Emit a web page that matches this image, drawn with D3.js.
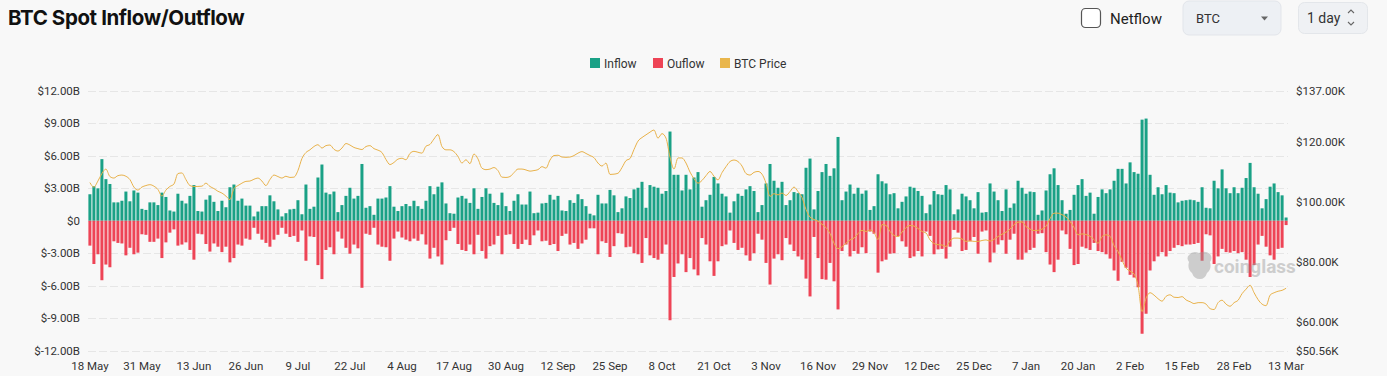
<!DOCTYPE html>
<html>
<head>
<meta charset="utf-8">
<script src="https://cdn.jsdelivr.net/npm/d3@7"></script>
<style>
  html, body { margin: 0; padding: 0; background: #f8f8f8; }
  svg { display: block; font-family: Roboto, "Noto Sans", sans-serif; }
</style>
</head>
<body>
<div id="canvas"></div>
<script>
"use strict"

/* canvas */
let svgWidth = 1387;
let svgHeight = 376;

/* plot area */
let plotLeft = 88
let plotRight = 1288
let plotTop = 91
let plotBottom = 350.5

/* daily spot inflow, $B (one bar per day from 18 May) */
let inflow = [
    2.45,3.2,3.0,5.7,3.85,3.4,1.7,1.7,1.85,2.7,
    1.8,2.8,2.6,1.1,1.0,1.7,1.7,1.45,2.6,2.2,
    0.95,0.85,2.5,1.85,1.6,2.3,3.3,0.9,0.85,1.95,
    2.35,1.75,0.9,1.85,1.25,3.1,3.35,1.85,2.05,1.4,
    1.4,0.4,0.85,1.35,1.35,2.35,1.8,1.05,0.4,0.7,
    1.05,1.1,1.9,0.6,3.35,1.1,1.3,4.0,5.2,2.6,
    2.45,2.7,0.8,1.45,2.3,3.05,2.05,2.3,5.25,1.2,
    1.35,0.55,2.05,2.05,2.15,3.2,1.3,0.9,1.35,1.55,
    1.35,1.85,1.35,1.1,1.85,3.2,2.45,3.15,3.55,1.6,
    0.7,0.65,2.15,2.3,2.05,1.65,3.0,1.1,2.2,3.0,
    2.5,1.65,1.45,2.6,1.35,0.9,1.85,2.45,1.5,1.5,
    2.7,0.7,0.75,1.6,1.65,2.4,1.95,2.3,0.95,0.9,
    1.9,1.65,2.45,2.0,1.35,0.65,0.5,2.4,1.6,1.6,
    2.85,2.35,0.8,1.15,2.25,2.1,2.9,3.05,3.6,1.2,
    3.3,3.15,3.05,2.5,2.75,8.25,4.25,4.25,2.8,4.25,
    2.9,4.0,4.5,1.3,1.9,2.4,4.05,3.45,2.5,2.25,
    0.75,1.8,2.5,2.3,2.9,3.2,2.75,0.8,1.45,3.45,
    5.25,3.7,3.05,3.6,1.45,1.9,2.65,2.55,2.45,4.9,
    5.75,1.05,2.75,4.5,5.25,4.15,4.85,7.75,1.9,2.7,
    3.35,2.5,3.05,2.5,2.8,1.0,1.35,4.3,3.65,3.45,
    2.45,2.55,1.15,1.75,2.25,3.15,3.05,2.75,2.3,0.7,
    1.5,2.75,2.45,2.4,3.3,2.9,0.6,1.05,2.5,2.25,
    1.9,1.15,2.65,0.75,0.8,3.45,2.7,1.9,0.9,2.9,
    1.2,1.6,3.7,3.05,2.5,2.7,2.65,0.55,0.95,2.8,
    4.3,4.85,3.3,1.9,0.65,1.0,2.4,3.3,3.85,2.3,
    2.6,0.65,2.2,2.9,2.55,2.9,3.7,4.8,4.8,3.45,
    5.4,4.5,4.35,9.35,9.45,4.25,2.4,3.1,2.45,3.3,
    2.6,2.55,1.7,1.85,1.9,1.95,1.9,1.75,3.1,1.2,
    1.15,3.7,3.0,4.75,3.0,2.55,3.1,2.55,3.05,3.95,
    5.35,3.1,2.5,1.15,2.0,3.15,3.45,2.65,2.35,0.3
];

/* daily spot outflow, $B (drawn below zero) */
let outflow = [
    2.3,4.0,3.1,5.5,4.05,4.3,1.9,2.05,2.1,3.2,
    2.5,3.1,2.95,1.25,1.3,1.95,1.95,1.65,3.45,2.0,
    1.1,0.8,2.3,2.2,2.0,2.7,3.6,1.2,1.25,2.15,
    2.85,2.1,2.4,2.9,2.4,3.85,3.45,2.2,2.3,1.65,
    1.75,0.65,1.2,1.75,2.05,2.4,1.75,1.3,0.65,1.2,
    1.5,1.4,1.95,0.9,3.7,1.45,1.5,4.1,5.4,2.7,
    2.45,3.1,1.0,1.65,2.5,3.05,2.2,2.55,6.2,1.2,
    1.3,0.65,2.2,2.4,2.45,3.7,1.65,1.0,1.55,1.75,
    1.9,1.65,1.85,1.25,2.2,3.5,2.5,3.3,4.05,1.8,
    0.95,0.65,2.15,2.7,2.8,2.2,3.1,1.3,2.8,3.5,
    2.35,2.2,1.4,3.1,1.3,1.25,2.15,2.6,2.15,1.75,
    2.25,1.35,0.9,1.9,1.85,2.25,2.15,2.8,1.4,1.2,
    2.2,2.05,2.6,2.1,1.75,0.7,0.7,3.1,1.9,2.05,
    3.35,2.35,1.15,1.2,2.45,2.4,3.0,3.1,3.9,1.6,
    3.2,3.45,3.6,3.05,2.2,9.2,5.2,3.95,3.1,4.75,
    3.45,4.5,5.05,1.6,2.2,3.75,5.1,3.75,2.35,2.2,
    0.9,2.05,2.7,2.5,3.2,3.7,3.0,1.2,1.75,3.9,
    5.9,3.5,3.1,3.65,1.6,2.2,2.8,3.3,3.6,5.35,
    7.0,1.5,3.45,5.4,5.45,3.9,5.6,8.2,2.8,2.2,
    3.3,2.8,3.05,2.45,3.0,1.0,1.2,4.8,3.75,3.6,
    3.05,3.0,1.45,1.9,2.4,3.45,3.3,2.8,3.3,1.0,
    1.4,3.1,2.65,2.6,3.5,2.4,0.85,1.1,2.8,2.7,
    1.9,1.5,3.05,1.0,0.9,3.85,2.95,2.2,1.8,3.05,
    1.75,1.2,3.6,3.6,2.95,2.7,2.5,1.2,1.15,2.9,
    4.05,4.75,3.6,0.9,1.25,2.6,4.1,4.0,2.4,2.55,
    2.7,2.05,2.8,2.9,3.1,3.5,4.6,5.55,3.8,4.35,
    5.0,5.25,6.15,10.45,8.6,4.6,3.75,3.3,2.9,3.3,
    2.8,2.5,2.25,2.35,2.2,2.2,2.15,2.05,3.7,1.25,
    1.35,4.0,3.3,2.6,2.9,2.95,2.8,3.0,2.9,3.6,
    5.2,4.1,2.2,1.4,2.4,3.2,3.6,2.6,2.5,0.4
];

/* BTC price, $K */
let btcPrice = [
    106.5,105,107,109.5,111,108.5,108,108.8,109,108.6,
    107.5,105,104,105,105.5,105.8,105.3,104.2,102,104,
    105.2,106,109.5,109.7,107.5,105.5,105.2,105.2,105.3,106.3,
    105.2,104.5,103.6,103,102,100.8,104.5,105.5,106.3,106.9,
    107,107.6,108,107,105.5,107.5,109,108.5,108,108.6,
    108.2,108.3,110.5,114.5,116.5,117.4,118.5,119.1,118,118.8,
    119,117.6,117,118,119.5,119,118.2,117.8,117.5,118.5,
    118.8,117.8,117.3,116.5,114.2,112.5,113.2,114.3,114.6,114.1,
    116.2,116.9,116.6,116.3,118.6,119.2,121,122.5,118.5,117.4,
    117.4,116.8,115.2,113,114.1,112.8,116,114.4,111.3,110.8,
    111,111.5,110.5,108.3,108.2,108.5,109.8,111,111,110.7,
    110.3,110.5,110.8,111.8,111.3,114,115.5,115.6,115,114.9,
    115,115.5,116.3,116.8,116.2,115.5,114.8,113,112,113,
    109.2,109.3,109.6,111.5,113.8,114.5,117.5,120.3,121.5,122.4,
    123.3,124,121.3,122.8,121.3,115,111,114.7,114.7,113,
    110,107.8,106.3,107.2,108.8,110.2,108.6,107.4,109.8,111.8,
    113.5,114,113.5,112,109.5,109,109.9,110.2,109.3,106.3,
    101.9,102.8,102.4,103,102.2,103.5,105,103.5,101.5,97.5,
    95,94.2,93.6,92.6,91.5,89.5,86.3,84.5,85.1,86.3,
    87.4,88,89.5,90.6,90.2,90.7,89.8,87.5,92.5,92.2,
    90.2,88.9,88.5,90,91.5,92.2,92,91.2,90.2,89.7,
    87.4,86.2,85.8,85.7,85.2,87,88,88,87.7,86.9,
    87.1,86.9,86.9,87.2,87.4,87,87.6,88.5,89.3,90,
    91,92.5,93.3,93.4,91.8,91,90.5,90.6,91,92,
    94.5,96.3,96.3,95.8,95,93.5,91.5,89.1,89.4,89.2,
    88.6,87.5,86.3,88.5,89.1,88.6,85.5,83.5,80.6,78,
    77,76,72.2,63.5,68,69.8,69,67.8,67,68.6,
    69.1,68.3,68.2,68.5,67.4,66.8,66.2,66.5,66.5,66,
    64.5,64.2,66.5,67.3,66,65.3,66.5,67.3,69.5,71,
    72.3,69.8,67.5,66,65.5,69,69.8,70.3,70.6,71.3
];

/* axis ticks */
let leftTicks = [12, 9, 6, 3, 0, -3, -6, -9, -12];
let rightTicks = [137, 120, 100, 80, 60, 50.56];
let xTickLabels = ["18 May", "31 May", "13 Jun", "26 Jun", "9 Jul", "22 Jul", "4 Aug",
    "17 Aug", "30 Aug", "12 Sep", "25 Sep", "8 Oct", "21 Oct", "3 Nov", "16 Nov",
    "29 Nov", "12 Dec", "25 Dec", "7 Jan", "20 Jan", "2 Feb", "15 Feb", "28 Feb", "13 Mar"];
let xTickEvery = 13;

/* legend */
let legendItems = [
    {label: "Inflow", color: "#1aa186"},
    {label: "Ouflow", color: "#ee4456"},
    {label: "BTC Price", color: "#e9b64c"}
];

let inColor = "#1aa186";
let outColor = "#ee4456";
let priceColor = "#e9b24a";

let svg = d3.select("#canvas")
    .append("svg")
    .attr("width", svgWidth)
    .attr("height", svgHeight);

svg.append("rect")
    .attr("width", svgWidth)
    .attr("height", svgHeight)
    .attr("fill", "#f8f8f8");

/* scales */
let days = d3.range(inflow.length);

let xScale = d3.scaleBand()
    .domain(days)
    .range([plotLeft, plotRight])
    .paddingInner(0.25)
    .paddingOuter(0.1);

let yLeft = d3.scaleLinear()
    .domain([-12, 12])
    .range([plotBottom, plotTop]);

let yRight = d3.scaleLinear()
    .domain([50.56, 137])
    .range([plotBottom, plotTop]);

/* title */
svg.append("text")
    .attr("x", 8)
    .attr("y", 25)
    .attr("font-family", "Inter, Roboto, sans-serif")
    .attr("font-size", 20.5)
    .attr("font-weight", 700)
    .attr("letter-spacing", -0.4)
    .attr("fill", "#111")
    .text("BTC Spot Inflow/Outflow");

/* controls top right */
svg.append("rect")
    .attr("x", 1081.5).attr("y", 8.5)
    .attr("width", 19).attr("height", 19)
    .attr("rx", 4)
    .attr("fill", "#fff")
    .attr("stroke", "#555")
    .attr("stroke-width", 1.2);

svg.append("text")
    .attr("x", 1110).attr("y", 24)
    .attr("font-size", 15)
    .attr("fill", "#222")
    .text("Netflow");

svg.append("rect")
    .attr("x", 1183).attr("y", 1)
    .attr("width", 98).attr("height", 34)
    .attr("rx", 6)
    .attr("fill", "#edf0f4")
    .attr("stroke", "#e2e5ea");

svg.append("text")
    .attr("x", 1196).attr("y", 23)
    .attr("font-size", 13)
    .attr("fill", "#333")
    .text("BTC");

svg.append("path")
    .attr("d", "M1261,16.5 L1268,16.5 L1264.5,20.5 Z")
    .attr("fill", "#666");

svg.append("rect")
    .attr("x", 1298.5).attr("y", 2.5)
    .attr("width", 69).attr("height", 31)
    .attr("rx", 6)
    .attr("fill", "#eff1f4")
    .attr("stroke", "#e3e6ea");

svg.append("text")
    .attr("x", 1307).attr("y", 23)
    .attr("font-size", 14)
    .attr("fill", "#333")
    .text("1 day");

svg.append("path")
    .attr("d", "M1348,13 L1351,10 L1354,13 M1348,22 L1351,25 L1354,22")
    .attr("fill", "none")
    .attr("stroke", "#666")
    .attr("stroke-width", 1.1);

/* legend */
let legendX = [590, 653, 720];
legendItems.forEach(function(d, i) {
    svg.append("rect")
        .attr("x", legendX[i])
        .attr("y", 58)
        .attr("width", 10)
        .attr("height", 10)
        .attr("fill", d.color);

    svg.append("text")
        .attr("x", legendX[i] + 14)
        .attr("y", 67.5)
        .attr("font-size", 12)
        .attr("fill", "#333")
        .text(d.label);
});

/* gridlines */
svg.append("g")
    .selectAll("line")
    .data(leftTicks)
    .join("line")
    .attr("x1", plotLeft)
    .attr("x2", plotRight)
    .attr("y1", d => Math.round(yLeft(d)) + 0.5)
    .attr("y2", d => Math.round(yLeft(d)) + 0.5)
    .attr("stroke", "#e6e6e6")
    .attr("stroke-dasharray", "8,3");

/* left axis labels */
function fmtB(v) {
    return v === 0 ? "$0" : "$" + v.toFixed(2) + "B";
}

svg.append("g")
    .selectAll("text")
    .data(leftTicks)
    .join("text")
    .attr("x", 80)
    .attr("y", d => yLeft(d) + 4)
    .attr("text-anchor", "end")
    .attr("font-size", 11.5)
    .attr("fill", "#333")
    .text(fmtB);

/* right axis labels */
svg.append("g")
    .selectAll("text")
    .data(rightTicks)
    .join("text")
    .attr("x", 1296)
    .attr("y", d => yRight(d) + 4)
    .attr("font-size", 11.5)
    .attr("fill", "#333")
    .text(d => "$" + d.toFixed(2) + "K");

/* x axis labels */
svg.append("g")
    .selectAll("text")
    .data(xTickLabels)
    .join("text")
    .attr("x", (d, i) => xScale(i * xTickEvery) + xScale.bandwidth() / 2)
    .attr("y", 370)
    .attr("text-anchor", "middle")
    .attr("font-size", 11.5)
    .attr("fill", "#333")
    .text(d => d);

/* bars */
svg.append("g")
    .selectAll("rect")
    .data(days)
    .join("rect")
    .attr("x", d => xScale(d))
    .attr("width", xScale.bandwidth())
    .attr("y", d => yLeft(inflow[d]))
    .attr("height", d => yLeft(0) - yLeft(inflow[d]))
    .attr("fill", inColor);

svg.append("g")
    .selectAll("rect")
    .data(days)
    .join("rect")
    .attr("x", d => xScale(d))
    .attr("width", xScale.bandwidth())
    .attr("y", yLeft(0))
    .attr("height", d => yLeft(-outflow[d]) - yLeft(0))
    .attr("fill", outColor);

/* watermark */
let wm = svg.append("g")
    .attr("opacity", 0.45)
    .attr("fill", "#9a9a9a");

wm.append("path")
    .attr("d", "M1189,255 q4,-5 10,-2 q6,-3 11,1 q3,4 0,8 q2,7 -3,11 q-2,6 -7,6 q-6,0 -8,-6 q-5,-4 -3,-11 q-3,-4 0,-7 Z");

wm.append("text")
    .attr("x", 1214)
    .attr("y", 273)
    .attr("font-size", 19)
    .attr("font-weight", 700)
    .text("coinglass");

/* price line */
let priceLine = d3.line()
    .x((d, i) => xScale(i) + xScale.bandwidth() / 2)
    .y(d => yRight(d))
    .curve(d3.curveMonotoneX);

svg.append("path")
    .datum(btcPrice)
    .attr("d", priceLine)
    .attr("fill", "none")
    .attr("stroke", priceColor)
    .attr("stroke-width", 1);
</script>
</body>
</html>
